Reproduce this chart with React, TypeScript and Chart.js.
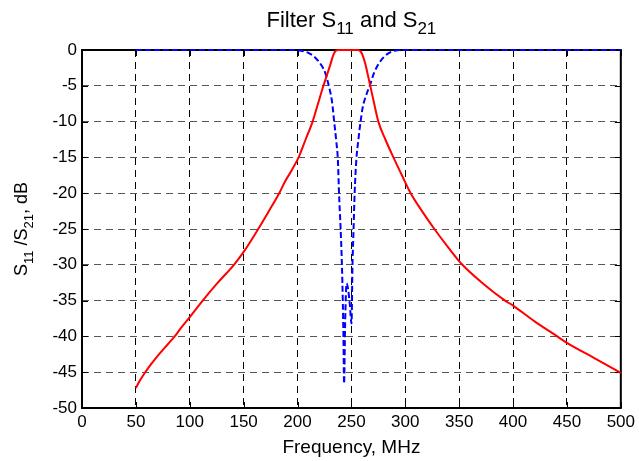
import { useEffect, useRef } from "react";
import { Chart, registerables } from "chart.js";

Chart.register(...registerables);

// S21 (red, solid)
const freqS21 = [50, 54, 58.7, 65, 72, 79, 86, 93, 100, 112, 126, 141, 150, 163.5, 173, 183, 188.3, 195, 201, 207.5, 214, 219, 224, 227.5, 230.5, 233, 235, 237.5, 247, 256.5, 259, 261, 263, 265, 267.5, 271, 275, 281.5, 289, 297.5, 305, 315.5, 327, 340, 353, 372, 392.6, 400, 420, 441, 450, 475, 500];
const s21 = [-47.2, -46.1, -45, -43.7, -42.4, -41.2, -40, -38.6, -37.3, -35, -32.5, -30, -28.2, -25, -22.6, -20, -18.4, -16.7, -15, -12.5, -10, -7.5, -5, -3.4, -2, -0.8, -0.2, 0, 0, 0, -0.3, -1, -2, -3.3, -5, -7.4, -10, -12.5, -15, -17.7, -20, -22.5, -25, -27.6, -30, -32.6, -35, -35.7, -37.9, -40, -40.9, -43, -45.1];

// S11 (blue, dashed)
const freqS11 = [50, 195, 203, 210, 216, 222, 226, 229, 232, 234, 236, 237.5, 238.5, 240, 241.2, 242, 242.6, 243.2, 244.2, 245.5, 247, 248.5, 250.1, 251, 252, 253, 254.5, 256.5, 258.5, 260.5, 263.5, 267, 271, 275, 280, 285, 290, 296, 500];
const s11 = [0, 0, -0.1, -0.4, -1.0, -2.1, -3.3, -5, -7.2, -10, -12.8, -15.5, -20, -25, -30, -35, -40, -46.6, -38, -32.6, -33.5, -35.5, -38.2, -30, -25, -20, -15.5, -12.5, -10, -8, -6.4, -5, -3.2, -2, -1, -0.4, -0.1, 0, 0];

const xTickValues = [0, 50, 100, 150, 200, 250, 300, 350, 400, 450, 500];
const yTickValues = [-50, -45, -40, -35, -30, -25, -20, -15, -10, -5, 0];

const titleParts = [
  { t: "Filter S", sub: false },
  { t: "11", sub: true },
  { t: " and S", sub: false },
  { t: "21", sub: true },
];
const yLabelParts = [
  { t: "S", sub: false },
  { t: "11", sub: true },
  { t: " /S", sub: false },
  { t: "21", sub: true },
  { t: ", dB", sub: false },
];
const xLabelText = "Frequency, MHz";

const FONT = "'Liberation Sans', Arial, sans-serif";

function drawRich(ctx: CanvasRenderingContext2D, parts: { t: string; sub: boolean }[], cx: number, baseline: number, size: number, subSize: number, subDrop: number) {
  const widths = parts.map((p) => {
    ctx.font = `${p.sub ? subSize : size}px ${FONT}`;
    return ctx.measureText(p.t).width;
  });
  const total = widths.reduce((a, b) => a + b, 0);
  let x = cx - total / 2;
  ctx.textAlign = "left";
  ctx.textBaseline = "alphabetic";
  parts.forEach((p, i) => {
    ctx.font = `${p.sub ? subSize : size}px ${FONT}`;
    ctx.fillText(p.t, x, p.sub ? baseline + subDrop : baseline);
    x += widths[i];
  });
}

const decorPlugin = {
  id: "decor",
  beforeDatasetsDraw(chart: any) {
    const { ctx, chartArea, scales } = chart;
    const { left, right, top, bottom } = chartArea;
    ctx.save();
    ctx.strokeStyle = "#000";
    ctx.lineWidth = 1;
    ctx.setLineDash([]);
    ctx.beginPath();
    for (const v of xTickValues) {
      const px = Math.round(scales.x.getPixelForValue(v)) + 0.5;
      ctx.moveTo(px, bottom);
      ctx.lineTo(px, bottom - 6);
      ctx.moveTo(px, top);
      ctx.lineTo(px, top + 6);
    }
    for (const v of yTickValues) {
      const py = Math.round(scales.y.getPixelForValue(v)) + 0.5;
      ctx.moveTo(left, py);
      ctx.lineTo(left + 6, py);
      ctx.moveTo(right, py);
      ctx.lineTo(right - 6, py);
    }
    ctx.stroke();
    ctx.lineWidth = 2;
    ctx.strokeRect(left, top, right - left, bottom - top);
    ctx.restore();
  },
  afterDraw(chart: any) {
    const { ctx, chartArea } = chart;
    const { left, right, top, bottom } = chartArea;
    const cx = (left + right) / 2;
    ctx.save();
    ctx.fillStyle = "#000";
    drawRich(ctx, titleParts, cx, 27, 22, 17, 7);
    ctx.font = `19px ${FONT}`;
    ctx.textAlign = "center";
    ctx.textBaseline = "alphabetic";
    ctx.fillText(xLabelText, cx, 453);
    ctx.translate(27, (top + bottom) / 2);
    ctx.rotate(-Math.PI / 2);
    drawRich(ctx, yLabelParts, 0, 0, 18, 13, 6);
    ctx.restore();
  },
};

export default function App() {
  const ref = useRef<HTMLCanvasElement>(null);
  useEffect(() => {
    if (!ref.current) return;
    const chart = new Chart(ref.current, {
      type: "line",
      data: {
        datasets: [
          {
            label: "S21",
            data: freqS21.map((f, i) => ({ x: f, y: s21[i] })),
            borderColor: "#ff0000",
            borderWidth: 2,
            pointRadius: 0,
            fill: false,
            cubicInterpolationMode: "monotone",
            clip: false as any,
          },
          {
            label: "S11",
            data: freqS11.map((f, i) => ({ x: f, y: s11[i] })),
            borderColor: "#0000ff",
            borderWidth: 2,
            borderDash: [6, 3],
            pointRadius: 0,
            fill: false,
            cubicInterpolationMode: "monotone",
            clip: false as any,
          },
        ],
      },
      options: {
        animation: false,
        responsive: false,
        events: [],
        layout: { padding: { left: 0, right: 18, top: 50, bottom: 0 } },
        plugins: { legend: { display: false }, tooltip: { enabled: false }, title: { display: false } },
        scales: {
          x: {
            type: "linear",
            min: 0,
            max: 500,
            afterFit: (s: any) => {
              s.height = 53;
            },
            afterBuildTicks: (s: any) => {
              s.ticks = xTickValues.map((v) => ({ value: v }));
            },
            ticks: { color: "#000", font: { family: FONT, size: 17 }, padding: 4, maxRotation: 0, autoSkip: false },
            grid: { color: "#000", lineWidth: 1, drawTicks: false },
            border: { display: false, dash: [7, 5] },
          },
          y: {
            type: "linear",
            min: -50,
            max: 0,
            afterFit: (s: any) => {
              s.width = 82;
            },
            afterBuildTicks: (s: any) => {
              s.ticks = yTickValues.map((v) => ({ value: v }));
            },
            ticks: { color: "#000", font: { family: FONT, size: 17 }, padding: 5, autoSkip: false },
            grid: { color: "#555", lineWidth: 1, drawTicks: false },
            border: { display: false, dash: [7, 5] },
          },
        },
      },
      plugins: [decorPlugin],
    });
    return () => chart.destroy();
  }, []);
  return (
    <div style={{ position: "fixed", left: 0, top: 0, width: 639, height: 461, background: "#fff" }}>
      <canvas ref={ref} width={639} height={461} />
    </div>
  );
}
